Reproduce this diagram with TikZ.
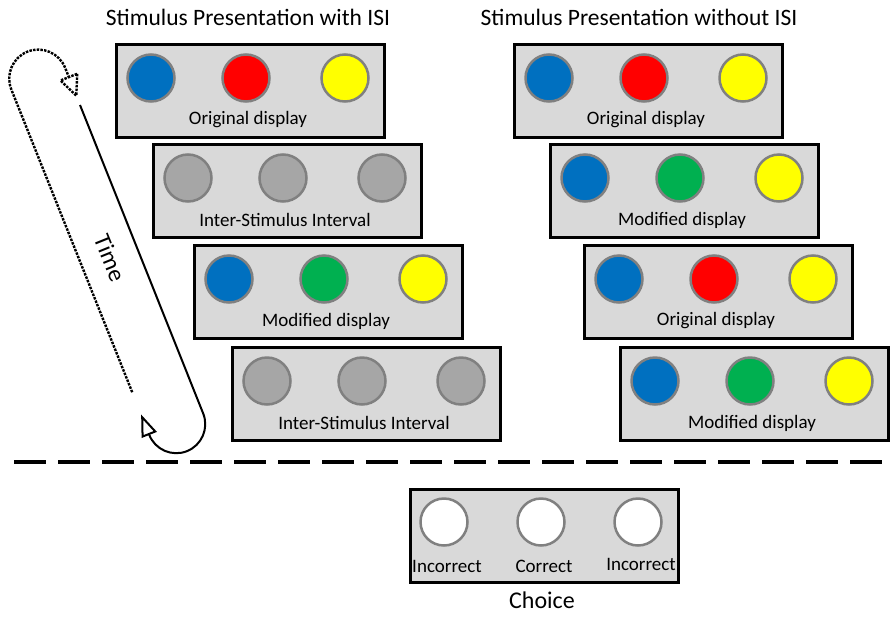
\documentclass[tikz,border=0pt]{standalone}
\usepackage{fontspec}
\setmainfont{Carlito}
\usepackage{tikz}
\usetikzlibrary{arrows.meta}
\definecolor{cblue}{RGB}{0,112,192}
\definecolor{cred}{RGB}{255,0,0}
\definecolor{cyellow}{RGB}{255,255,0}
\definecolor{cgreen}{RGB}{0,176,80}
\definecolor{cgray}{RGB}{166,166,166}
\definecolor{panelgray}{RGB}{217,217,217}
\definecolor{rimgray}{RGB}{128,128,128}
\begin{document}
\begin{tikzpicture}[x=1pt,y=-1pt,
  panel/.style={draw=black, line width=3pt, fill=panelgray, minimum width=268pt, minimum height=93pt, anchor=north west, inner sep=0pt},
  disc/.style={circle, draw=rimgray, line width=2.5pt, minimum size=47pt, inner sep=0pt},
  lab/.style={font=\fontsize{19}{22}\selectfont, inner sep=0pt},
  title/.style={font=\fontsize{23.5}{26}\selectfont, inner sep=0pt}]
\useasboundingbox (0,0) rectangle (896,616);
% titles
\node[title] (tisi) at (248,17) {Stimulus Presentation with ISI};
\node[title] (tnoisi) at (639,17) {Stimulus Presentation without ISI};
% displays
\foreach \nm/\px/\py/\ca/\cb/\cc/\lab in {
  L1/113/41/cblue/cred/cyellow/Original display,
  L2/150/141/cgray/cgray/cgray/Inter-Stimulus Interval,
  L3/191/242/cblue/cgreen/cyellow/Modified display,
  L4/229/344/cgray/cgray/cgray/Inter-Stimulus Interval,
  R1/511/41/cblue/cred/cyellow/Original display,
  R2/547/141/cblue/cgreen/cyellow/Modified display,
  R3/581/242/cblue/cred/cyellow/Original display,
  R4/617/344/cblue/cgreen/cyellow/Modified display}
{
  \node[panel] (\nm) at ({\px+1.5},{\py+1.5}) {};
  \node[disc, fill=\ca] (\nm-a) at ({\px+38},{\py+37}) {};
  \node[disc, fill=\cb] (\nm-b) at ({\px+133},{\py+37}) {};
  \node[disc, fill=\cc] (\nm-c) at ({\px+232},{\py+37}) {};
  \node[lab] (\nm-t) at ({\px+135},{\py+79}) {\lab};
}
% time loop
\coordinate (loop) at (80,105);
\begin{scope}[shift={(loop)}, x={(0.371pt,-0.929pt)}, y={(-0.929pt,-0.371pt)}]
\draw[line width=2pt, -{Triangle[open, length=22pt, width=16pt]}] (0,0) -- (332,0)
  .. controls (348,0) and (361,13) .. (361,29)
  .. controls (361,45) and (348,58) .. (332,58) -- (310,58);
\draw[line width=2.4pt, dash pattern=on 2.5pt off 1.2pt] (286,58) -- (-40,58)
  .. controls (-56,58) and (-69,45) .. (-69,29)
  .. controls (-69,13) and (-56,0) .. (-40,0) -- (-30,0);
\draw[line width=2.4pt, dash pattern=on 2.5pt off 1.2pt] (-30,-9) -- (-10,0) -- (-30,9) -- cycle;
\end{scope}
\node[lab, font=\fontsize{24}{26}\selectfont, rotate=-68] (time) at (110,258) {Time};
% separator
\draw[line width=4pt, dash pattern=on 32pt off 12pt] (14,462) -- (884,462);
% choice
\node[panel] (C) at (408.5,487.5) {};
\foreach \nm/\cx/\tx/\cy/\lab in {a/444/447/566/Incorrect, b/541/544/566/Correct, c/638/641/564/Incorrect}
{
  \node[disc, fill=white] (C-\nm) at (\cx,522) {};
  \node[lab] (C-\nm-t) at (\tx,\cy) {\lab};
}
\node[lab, font=\fontsize{24}{26}\selectfont] (choice) at (542,600) {Choice};
\end{tikzpicture}
\end{document}
